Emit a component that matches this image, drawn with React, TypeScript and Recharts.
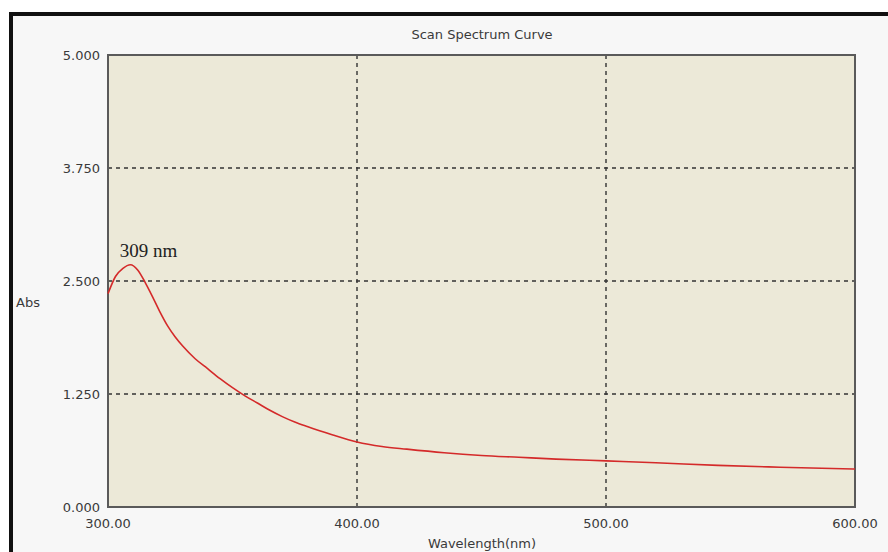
import { ComposedChart, Line, XAxis, YAxis, CartesianGrid, ReferenceArea, ReferenceDot, Label } from "recharts";

// wavelength (nm) and absorbance
const WAVELENGTH = [300, 303, 306, 309, 312, 315, 318, 321, 324, 327, 330, 335, 340, 345, 350, 355, 360, 365, 370, 375, 380, 390, 400, 410, 420, 435, 450, 465, 480, 500, 520, 545, 570, 600];
const ABS = [2.36, 2.55, 2.64, 2.68, 2.62, 2.48, 2.32, 2.15, 2.0, 1.88, 1.78, 1.64, 1.53, 1.42, 1.32, 1.23, 1.15, 1.07, 1.0, 0.94, 0.89, 0.8, 0.72, 0.67, 0.64, 0.6, 0.57, 0.55, 0.53, 0.51, 0.49, 0.46, 0.44, 0.42];
const X_TICKS = [300, 400, 500, 600];
const Y_TICKS = [0, 1.25, 2.5, 3.75, 5];
const PEAK = { x: 309, y: 2.68, text: "309 nm" };

const data = WAVELENGTH.map((w, i) => ({ w, abs: ABS[i] }));

const FONT = "'DejaVu Sans', sans-serif";
const tickStyle = { fontSize: 13, fill: "#3a3a3a", fontFamily: FONT };

export default function App() {
  return (
    <div style={{ position: "absolute", left: 0, top: 0, width: 888, height: 552, overflow: "hidden", background: "#fff" }}>
      {/* outer window frame */}
      <div
        style={{
          position: "absolute",
          left: 9,
          top: 12,
          width: 900,
          height: 560,
          borderLeft: "4px solid #111",
          borderTop: "4px solid #111",
          background: "#f7f7f7",
        }}
      />
      <div
        style={{
          position: "absolute",
          left: 0,
          width: 964,
          top: 27,
          textAlign: "center",
          fontFamily: FONT,
          fontSize: 13,
          color: "#3a3a3a",
        }}
      >
        Scan Spectrum Curve
      </div>
      <div style={{ position: "absolute", left: 0, top: 0 }}>
        <ComposedChart width={888} height={552} data={data} margin={{ top: 55, right: 33, bottom: 0, left: 0 }}>
          <CartesianGrid fill="#ece9d8" stroke="#333" strokeWidth={1.4} strokeDasharray="4 4" />
          <XAxis
            dataKey="w"
            type="number"
            domain={[300, 600]}
            ticks={X_TICKS}
            tickFormatter={(v: number) => v.toFixed(2)}
            tick={tickStyle}
            tickSize={0}
            tickMargin={12}
            axisLine={false}
            height={45}
          >
            <Label
              content={(p: any) => (
                <text x={482} y={p.viewBox.y + 41} textAnchor="middle" style={tickStyle}>
                  Wavelength(nm)
                </text>
              )}
            />
          </XAxis>
          <YAxis
            type="number"
            domain={[0, 5]}
            ticks={Y_TICKS}
            tickFormatter={(v: number) => v.toFixed(3)}
            tick={tickStyle}
            tickSize={0}
            tickMargin={8}
            axisLine={false}
            width={108}
          >
            <Label
              content={(p: any) => (
                <text x={16} y={p.viewBox.y + p.viewBox.height / 2 + 26} style={tickStyle}>
                  Abs
                </text>
              )}
            />
          </YAxis>
          <ReferenceArea x1={300} x2={600} y1={0} y2={5} fill="none" stroke="#5a5a5a" strokeWidth={2} fillOpacity={0} />
          <Line
            type="monotone"
            dataKey="abs"
            stroke="#d42a2a"
            strokeWidth={1.6}
            dot={false}
            isAnimationActive={false}
          />
          <ReferenceDot x={PEAK.x} y={PEAK.y} r={0} ifOverflow="visible">
            <Label
              content={(p: any) => (
                <text
                  x={p.viewBox.x + 18}
                  y={p.viewBox.y - 8}
                  textAnchor="middle"
                  style={{ fontSize: 19, fill: "#222", fontFamily: "'Liberation Serif', serif" }}
                >
                  {PEAK.text}
                </text>
              )}
            />
          </ReferenceDot>
        </ComposedChart>
      </div>
    </div>
  );
}
